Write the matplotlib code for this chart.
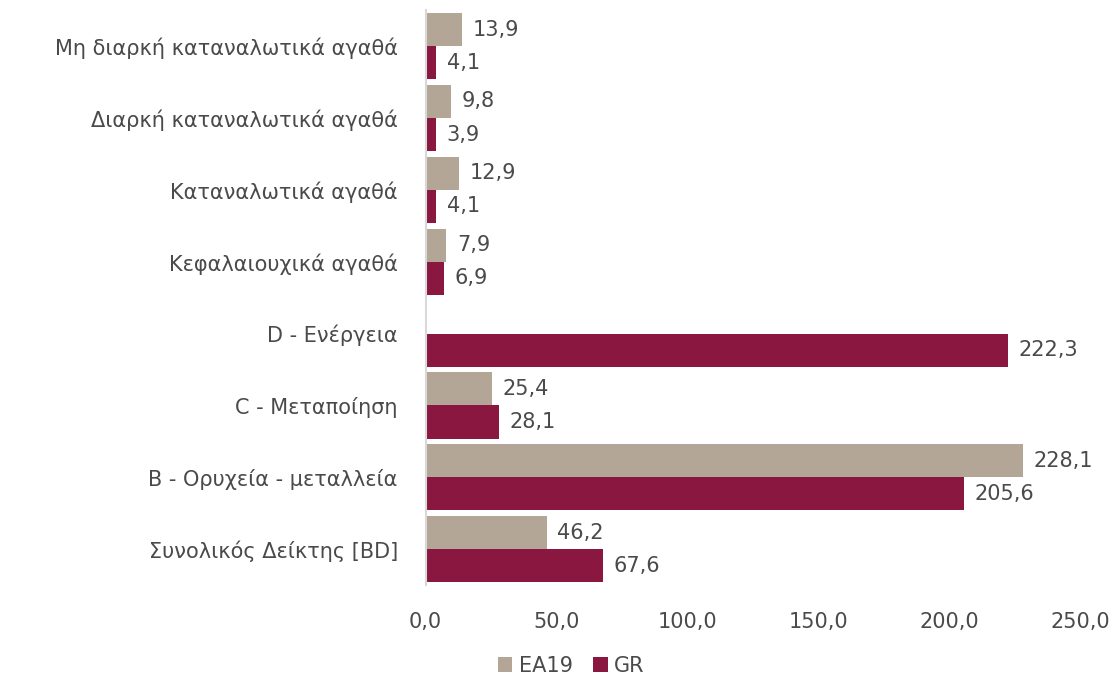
import numpy as np
import matplotlib
matplotlib.use("Agg")
from matplotlib import pyplot as plt

categories = [
    "Συνολικός Δείκτης [BD]",
    "B - Ορυχεία - μεταλλεία",
    "C - Μεταποίηση",
    "D - Ενέργεια",
    "Κεφαλαιουχικά αγαθά",
    "Καταναλωτικά αγαθά",
    "Διαρκή καταναλωτικά αγαθά",
    "Μη διαρκή καταναλωτικά αγαθά",
]
ea19 = [46.2, 228.1, 25.4, np.nan, 7.9, 12.9, 9.8, 13.9]
gr = [67.6, 205.6, 28.1, 222.3, 6.9, 4.1, 3.9, 4.1]
xticks = [0, 50, 100, 150, 200, 250]

c_ea = "#B4A696"
c_gr = "#8A1740"
txt = "#4a4a4a"
fs = 15

plt.rcParams['font.family'] = ['DejaVu Sans']

fig = plt.figure(figsize=(11.2, 6.82), dpi=100)
ax = fig.add_axes([0.38, 0.142, 0.585, 0.843])

y = np.arange(len(categories))
h = 0.46
b1 = ax.barh(y + h / 2, ea19, height=h, color=c_ea, label="EA19")
b2 = ax.barh(y - h / 2, gr, height=h, color=c_gr, label="GR")


def fmt(v):
    return f"{v:.1f}".replace(".", ",")


for bars, vals in ((b1, ea19), (b2, gr)):
    for bar, v in zip(bars, vals):
        if np.isnan(v):
            continue
        ax.text(v + 4, bar.get_y() + bar.get_height() / 2, fmt(v),
                va="center", ha="left", fontsize=fs, color=txt)

ax.set_xlim(0, 250)
ax.set_ylim(-0.5, len(categories) - 0.5)
ax.set_xticks(xticks)
ax.set_xticklabels([fmt(t) for t in xticks], fontsize=fs, color=txt)
ax.set_yticks(y)
ax.set_yticklabels(categories, fontsize=fs, color=txt)
ax.tick_params(length=0, pad=20)
ax.tick_params(axis="x", pad=19)
for s in ["top", "right", "bottom"]:
    ax.spines[s].set_visible(False)
ax.spines["left"].set_color("#d9d9d9")
ax.spines["left"].set_linewidth(1.5)

fig.legend(handles=[b1, b2], loc="lower center", bbox_to_anchor=(0.51, -0.018),
           ncol=2, frameon=False, fontsize=fs, labelcolor=txt,
           handlelength=0.7, handleheight=0.7, handletextpad=0.3, columnspacing=1.0)

fig.savefig("out.png", dpi=100)
